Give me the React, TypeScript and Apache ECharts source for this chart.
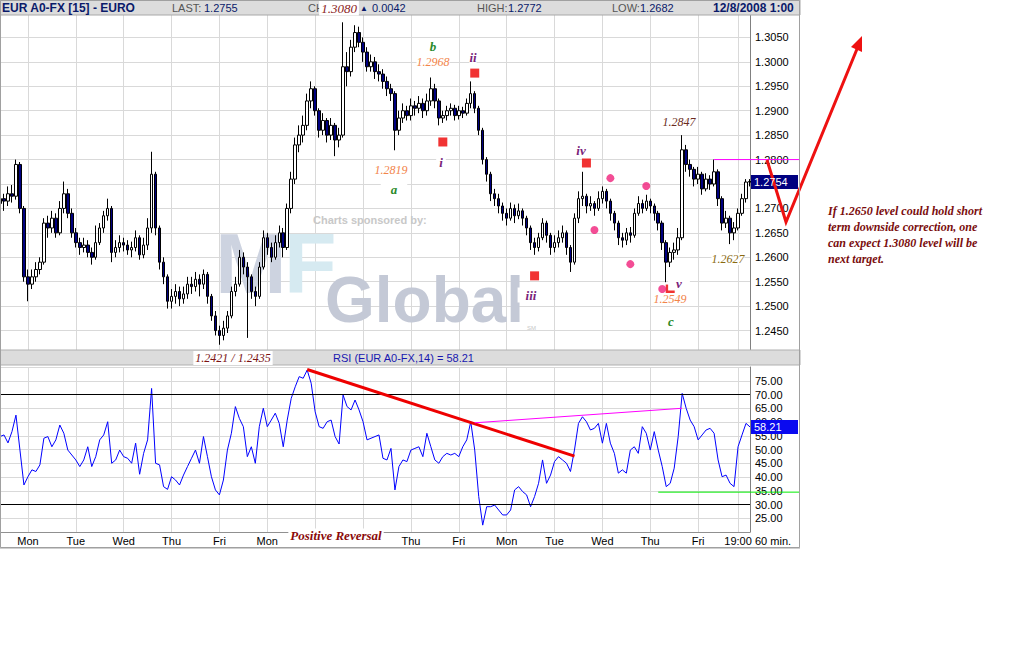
import React, { useEffect, useRef } from 'react';
import * as echarts from 'echarts';

// 2-hour EUR A0-FX bars: [open, close, low, high] in 1/10000 above 1.0000 (2720 = 1.2720)
const priceBars: number[][] = [
  [2710,2720,2700,2735],[2720,2715,2695,2730],[2715,2730,2705,2745],[2730,2725,2712,2748],[2725,2790,2718,2800],
  [2790,2700,2690,2795],[2700,2560,2550,2705],[2560,2545,2510,2575],[2545,2560,2535,2575],[2560,2575,2550,2590],
  [2575,2590,2565,2600],[2590,2670,2585,2680],[2670,2660,2640,2685],[2660,2680,2650,2695],[2680,2650,2640,2690],
  [2650,2700,2645,2715],[2700,2730,2690,2755],[2730,2690,2680,2740],[2690,2650,2640,2700],[2650,2630,2620,2660],
  [2630,2620,2605,2640],[2620,2625,2610,2640],[2625,2610,2600,2635],[2610,2600,2585,2620],[2600,2630,2595,2665],
  [2630,2660,2625,2670],[2660,2685,2650,2695],[2685,2700,2675,2720],[2700,2610,2590,2705],[2610,2620,2600,2635],
  [2620,2630,2610,2645],[2630,2625,2612,2640],[2625,2615,2605,2635],[2615,2620,2600,2632],[2620,2640,2612,2655],
  [2640,2605,2595,2645],[2605,2625,2598,2640],[2625,2660,2615,2680],[2660,2770,2650,2816],[2770,2660,2645,2775],
  [2660,2590,2575,2665],[2590,2560,2545,2600],[2560,2510,2495,2565],[2510,2520,2495,2535],[2520,2530,2505,2545],
  [2530,2515,2500,2540],[2515,2525,2505,2540],[2525,2545,2515,2560],[2545,2540,2525,2560],[2540,2555,2530,2570],
  [2555,2545,2520,2565],[2545,2565,2535,2575],[2565,2520,2505,2570],[2520,2480,2470,2525],[2480,2450,2440,2490],
  [2450,2440,2421,2460],[2440,2455,2430,2470],[2455,2480,2445,2490],[2480,2530,2475,2540],[2530,2545,2520,2560],
  [2545,2600,2540,2615],[2600,2580,2565,2610],[2580,2560,2435,2590],[2560,2530,2515,2565],[2530,2520,2500,2540],
  [2520,2580,2515,2590],[2580,2640,2575,2655],[2640,2620,2605,2650],[2620,2600,2590,2630],[2600,2630,2595,2645],
  [2630,2650,2620,2665],[2650,2620,2600,2660],[2620,2700,2615,2710],[2700,2760,2690,2775],[2760,2830,2750,2845],
  [2830,2850,2815,2870],[2850,2870,2835,2890],[2870,2920,2860,2935],[2920,2945,2905,2960],[2945,2900,2890,2950],
  [2900,2860,2845,2905],[2860,2880,2850,2895],[2880,2850,2835,2885],[2850,2870,2840,2885],[2870,2840,2807,2875],
  [2840,2850,2825,2865],[2850,2990,2845,3081],[2990,2980,2950,3020],[2980,3030,2970,3045],[3030,3060,3020,3075],
  [3060,3040,3030,3072],[3040,3020,3000,3050],[3020,2990,2980,3030],[2990,3000,2980,3015],[3000,2980,2965,3010],
  [2980,2975,2960,2995],[2975,2960,2945,2985],[2960,2945,2930,2970],[2945,2935,2920,2955],[2935,2860,2819,2940],
  [2860,2885,2850,2900],[2885,2900,2875,2915],[2900,2890,2880,2910],[2890,2910,2880,2925],[2910,2905,2890,2920],
  [2905,2915,2895,2930],[2915,2900,2885,2925],[2900,2920,2890,2935],[2920,2945,2910,2968],[2945,2920,2905,2955],
  [2920,2885,2870,2925],[2885,2890,2875,2900],[2890,2900,2880,2910],[2900,2905,2890,2915],[2905,2890,2880,2912],
  [2890,2900,2882,2910],[2900,2895,2885,2908],[2895,2915,2890,2925],[2915,2935,2905,2960],[2935,2905,2895,2940],
  [2905,2860,2850,2910],[2860,2800,2790,2865],[2800,2770,2755,2805],[2770,2730,2715,2775],[2730,2720,2705,2740],
  [2720,2705,2690,2730],[2705,2690,2675,2712],[2690,2680,2665,2700],[2680,2700,2675,2712],[2700,2685,2670,2708],
  [2685,2695,2678,2710],[2695,2680,2665,2700],[2680,2660,2645,2685],[2660,2630,2615,2665],[2630,2620,2605,2640],
  [2620,2640,2612,2650],[2640,2670,2635,2680],[2670,2645,2630,2675],[2645,2620,2605,2650],[2620,2630,2610,2645],
  [2630,2640,2620,2655],[2640,2650,2630,2665],[2650,2620,2605,2655],[2620,2590,2570,2625],[2590,2680,2585,2690],
  [2680,2720,2670,2735],[2720,2725,2705,2775],[2725,2705,2690,2730],[2705,2710,2695,2725],[2710,2700,2685,2715],
  [2700,2720,2695,2735],[2720,2735,2710,2745],[2735,2715,2700,2740],[2715,2690,2675,2720],[2690,2670,2655,2695],
  [2670,2640,2625,2675],[2640,2635,2620,2650],[2635,2650,2625,2660],[2650,2645,2630,2662],[2645,2690,2640,2700],
  [2690,2710,2685,2725],[2710,2700,2690,2718],[2700,2715,2695,2728],[2715,2705,2690,2720],[2705,2690,2675,2710],
  [2690,2670,2655,2695],[2670,2630,2615,2675],[2630,2590,2549,2635],[2590,2610,2580,2620],[2610,2615,2595,2630],
  [2615,2640,2605,2660],[2640,2820,2635,2850],[2820,2790,2775,2830],[2790,2780,2765,2800],[2780,2760,2745,2785],
  [2760,2770,2750,2785],[2770,2740,2728,2775],[2740,2760,2735,2772],[2760,2750,2738,2768],[2750,2775,2745,2800],
  [2775,2720,2705,2780],[2720,2670,2655,2725],[2670,2680,2660,2695],[2680,2650,2627,2685],[2650,2660,2635,2672],
  [2660,2690,2655,2700],[2690,2720,2685,2730],[2720,2754,2712,2760],[2754,2755,2745,2760],
];

// RSI(14), one value per bar
const rsiValues: number[] = [
  54.7, 55.3, 52.4, 56.5, 62.5, 49.8, 37.1, 40.1, 42.6, 42.0,
  44.4, 54.1, 54.7, 51.0, 53.5, 58.9, 55.9, 49.8, 48.0, 46.2,
  43.8, 46.2, 51.0, 43.8, 47.4, 53.5, 55.3, 60.1, 45.0, 46.2,
  49.8, 47.4, 46.8, 45.0, 52.3, 41.0, 48.6, 53.5, 72.2, 45.0,
  44.4, 36.5, 35.5, 40.1, 38.9, 37.1, 40.7, 43.8, 46.8, 49.8,
  45.0, 54.7, 47.4, 40.1, 35.3, 33.5, 38.9, 49.8, 55.9, 65.6,
  61.3, 58.3, 47.4, 51.0, 45.0, 58.3, 65.0, 58.3, 60.7, 63.2,
  59.5, 51.0, 60.7, 68.6, 72.8, 76.5, 75.9, 78.9, 74.1, 63.7,
  58.3, 57.7, 60.1, 60.7, 54.7, 52.0, 69.8, 65.6, 64.4, 68.0,
  64.4, 60.1, 53.5, 54.1, 54.7, 55.3, 46.8, 46.2, 50.4, 35.3,
  43.8, 46.2, 45.6, 49.8, 50.4, 51.0, 47.4, 55.9, 51.0, 46.2,
  45.0, 47.4, 48.6, 48.0, 48.6, 47.4, 51.0, 53.5, 60.1, 49.8,
  32.9, 22.5, 29.2, 29.2, 29.8, 28.0, 26.2, 26.2, 28.0, 35.3,
  36.5, 34.7, 33.5, 29.2, 32.9, 37.7, 46.2, 37.7, 40.7, 45.6,
  47.4, 46.2, 45.0, 42.0, 49.8, 59.5, 61.9, 60.1, 57.1, 57.7,
  59.5, 52.3, 59.5, 52.3, 48.6, 41.4, 42.6, 41.4, 49.8, 51.0,
  48.6, 58.3, 55.9, 49.8, 56.5, 49.8, 43.8, 36.5, 37.7, 43.2,
  54.7, 70.4, 65.0, 60.7, 58.3, 53.5, 55.3, 57.1, 57.7, 55.9,
  46.2, 40.1, 40.7, 37.7, 36.5, 51.0, 55.3, 59.5, 58.21,
];

// day-start ticks; the two labels hidden under the "Positive Reversal" note are left blank
const dayLabels = ['Mon', 'Tue', 'Wed', 'Thu', 'Fri', 'Mon', '', '', 'Thu', 'Fri', 'Mon', 'Tue', 'Wed', 'Thu', 'Fri', '19:00'];
const dayLabelBars = [7, 19, 31, 43, 55, 67, 79, 91, 103, 115, 127, 139, 151, 163, 175, 185];

const lastPrice = 1.2754;
const lastRsi = 58.21;
const resistanceLevel = 1.28;
const resistanceFromBar = 179;
const rsiSupportLevel = 34.5;
const rsiSupportFromBar = 165;
const waveSquares: number[][] = [[119, 1.2977], [111, 1.2836], [134, 1.2562], [147, 1.2793], [168, 1.2535]];
const pinkDots: number[][] = [[153, 1.2762], [149, 1.2656], [162, 1.2746], [158, 1.2586], [166, 1.2535]];
const rsiTrendRed: number[][] = [[77, 79.1], [144, 47.6]];
const rsiTrendMagenta: number[][] = [[119, 59.7], [171, 65.0]];
const rsiTrendOrange: number[][] = [[55, 33.1], [137, 19.9]];

const SANS = '"Liberation Sans", Arial, sans-serif';
const SERIF = '"Liberation Serif", "DejaVu Serif", serif';
const GREEN = '#2a8a2a';
const ORANGE = '#f2844a';
const PURPLE = '#7a1f7a';
const MAROON = '#7a1212';

export default function App() {
  const ref = useRef<HTMLDivElement>(null);

  useEffect(() => {
    const chart = echarts.init(ref.current as HTMLDivElement, undefined, { renderer: 'svg', width: 1012, height: 665 });
    const toPrice = (v: number) => +(1 + v / 10000).toFixed(4);
    const candles = priceBars.map((b) => b.map(toPrice));
    const cats = priceBars.map((_, i) => String(i));
    const labelMap: Record<number, string> = {};
    dayLabelBars.forEach((b, k) => { labelMap[b] = dayLabels[k]; });
    const isDay = (i: number) => labelMap[i] !== undefined;
    const gridLine = { show: true, interval: isDay, lineStyle: { color: '#d9d9d9', width: 1 } };

    const trend = (pts: number[][], color: string, width: number) => [
      { coord: pts[0], lineStyle: { color, width, type: 'solid' } },
      { coord: pts[1], lineStyle: { color, width, type: 'solid' } },
    ];

    chart.setOption({
      animation: false,
      backgroundColor: '#ffffff',
      grid: [
        { left: 0, top: 13, width: 750, height: 342, show: false },
        { left: 0, top: 367, width: 750, height: 165, show: false },
      ],
      xAxis: [
        {
          type: 'category', gridIndex: 0, data: cats, boundaryGap: false,
          axisLine: { show: false }, axisTick: { show: false }, axisLabel: { show: false },
          splitLine: gridLine,
        },
        {
          type: 'category', gridIndex: 1, data: cats, boundaryGap: false,
          axisLine: { show: true, lineStyle: { color: '#909090' } }, axisTick: { show: false },
          axisLabel: {
            interval: (i: number) => !!labelMap[i], margin: 3, color: '#000', fontSize: 11, fontFamily: SANS,
            formatter: (_v: string, i: number) => labelMap[i] ?? '',
          },
          splitLine: gridLine,
        },
      ],
      yAxis: [
        {
          type: 'value', gridIndex: 0, position: 'right', min: 1.24, max: 1.31, interval: 0.005,
          axisLine: { show: true, lineStyle: { color: '#808080' } }, axisTick: { show: false },
          axisLabel: {
            margin: 5, color: '#000', fontSize: 11, fontFamily: SANS,
            formatter: (v: number) => (v < 1.2449 || v > 1.3051 ? '' : v.toFixed(4)),
          },
          splitLine: { show: true, lineStyle: { color: '#d9d9d9', width: 1 } },
        },
        {
          type: 'value', gridIndex: 1, position: 'right', min: 20, max: 80, interval: 5,
          axisLine: { show: true, lineStyle: { color: '#808080' } }, axisTick: { show: false },
          axisLabel: {
            margin: 5, color: '#000', fontSize: 11, fontFamily: SANS,
            formatter: (v: number) => (v < 24 || v > 76 ? '' : v.toFixed(2)),
          },
          splitLine: { show: true, lineStyle: { color: '#d9d9d9', width: 1 } },
        },
      ],
      series: [
        {
          type: 'candlestick', xAxisIndex: 0, yAxisIndex: 0, data: candles, barWidth: 3,
          itemStyle: { color: '#ffffff', color0: '#000080', borderColor: '#000000', borderColor0: '#000000', borderWidth: 1 },
        },
        {
          type: 'scatter', xAxisIndex: 0, yAxisIndex: 0, data: waveSquares, symbol: 'rect', symbolSize: 9,
          itemStyle: { color: '#ee0000' }, z: 5, silent: true,
        },
        {
          type: 'scatter', xAxisIndex: 0, yAxisIndex: 0, data: pinkDots, symbol: 'circle', symbolSize: 8,
          itemStyle: { color: '#f0207a' }, z: 5, silent: true,
        },
        {
          type: 'line', xAxisIndex: 1, yAxisIndex: 1, data: rsiValues, showSymbol: false,
          lineStyle: { color: '#0000ff', width: 1 }, silent: true,
          markLine: {
            silent: true, symbol: ['none', 'none'], label: { show: false },
            data: [
              { yAxis: 70, lineStyle: { color: '#000', width: 1, type: 'solid' } },
              { yAxis: 30, lineStyle: { color: '#000', width: 1, type: 'solid' } },
              trend(rsiTrendRed, '#ee0000', 3),
              trend(rsiTrendMagenta, '#ff00ff', 1),
              trend(rsiTrendOrange, '#ff8040', 1),
            ],
          },
        },
      ],
    });

    const p0 = (x: number, y: number) => chart.convertToPixel({ gridIndex: 0 }, [x, y]) as number[];
    const p1 = (x: number, y: number) => chart.convertToPixel({ gridIndex: 1 }, [x, y]) as number[];
    const lastPx = p0(priceBars.length - 1, lastPrice);
    const lastRsiPx = p1(rsiValues.length - 1, lastRsi);
    const resPx = p0(resistanceFromBar, resistanceLevel);
    const supPx = p1(rsiSupportFromBar, rsiSupportLevel);

    const text = (x: number, y: number, t: string, fill: string, opts: any = {}) => ({
      type: 'text', x, y, z: opts.z ?? 110, silent: true,
      style: {
        text: t, fill,
        fontSize: opts.size ?? 12, fontFamily: opts.family ?? SERIF,
        fontStyle: opts.style ?? 'italic', fontWeight: opts.weight ?? 'normal',
        align: opts.align ?? 'center', verticalAlign: 'middle',
        backgroundColor: opts.bg, padding: opts.pad,
      },
    });

    const elements: any[] = [
      // watermark
      text(215, 263, 'M', '#cdd3e0', { family: SANS, style: 'normal', weight: 'bold', size: 86, align: 'left', z: 1 }),
      text(284, 263, 'F', '#d6eaf1', { family: SANS, style: 'normal', weight: 'bold', size: 86, align: 'left', z: 1 }),
      text(325, 300, 'Global', '#c4c9d6', { family: SANS, style: 'normal', weight: 'bold', size: 64, align: 'left', z: 1 }),
      text(313, 220, 'Charts sponsored by:', '#c8c8c8', { family: SANS, style: 'normal', weight: 'bold', size: 11, align: 'left', z: 1 }),
      text(527, 328, 'SM', '#c8c8c8', { family: SANS, style: 'normal', size: 6, align: 'left', z: 1 }),

      // header bar
      { type: 'rect', z: 100, silent: true, shape: { x: 0, y: 0, width: 800, height: 15 }, style: { fill: '#dcdcdc', stroke: '#a8a8a8', lineWidth: 1 } },
      text(2, 8, 'EUR A0-FX [15] - EURO', '#0a1a6a', { family: SANS, style: 'normal', weight: 'bold', size: 12, align: 'left' }),
      text(172, 8, 'LAST:', '#555', { family: SANS, style: 'normal', size: 11, align: 'left' }),
      text(204, 8, '1.2755', '#0a1a6a', { family: SANS, style: 'normal', size: 11, align: 'left' }),
      text(308, 8, 'CH', '#555', { family: SANS, style: 'normal', size: 11, align: 'left' }),
      text(360, 8, '▲', '#0a1a6a', { family: SANS, style: 'normal', size: 8, align: 'left' }),
      text(372, 8, '0.0042', '#0a1a6a', { family: SANS, style: 'normal', size: 11, align: 'left' }),
      text(477, 8, 'HIGH:', '#555', { family: SANS, style: 'normal', size: 11, align: 'left' }),
      text(508, 8, '1.2772', '#0a1a6a', { family: SANS, style: 'normal', size: 11, align: 'left' }),
      text(612, 8, 'LOW:', '#555', { family: SANS, style: 'normal', size: 11, align: 'left' }),
      text(640, 8, '1.2682', '#0a1a6a', { family: SANS, style: 'normal', size: 11, align: 'left' }),
      text(713, 8, '12/8/2008 1:00', '#0a1a6a', { family: SANS, style: 'normal', weight: 'bold', size: 12, align: 'left' }),
      text(339, 8, '1.3080', '#8b1c1c', { size: 13, bg: '#ffffff', pad: [1, 2], z: 120 }),

      // RSI header bar
      { type: 'rect', z: 100, silent: true, shape: { x: 0, y: 350, width: 800, height: 15 }, style: { fill: '#dcdcdc', stroke: '#b0b0b0', lineWidth: 1 } },
      text(333, 358, 'RSI (EUR A0-FX,14) = 58.21', '#1818b0', { family: SANS, style: 'normal', size: 11, align: 'left' }),
      text(233, 358, '1.2421 / 1.2435', MAROON, { size: 12, bg: '#ffffff', pad: [1, 2], z: 120 }),

      // frame
      { type: 'rect', z: 130, silent: true, shape: { x: 0.5, y: 0.5, width: 799, height: 547 }, style: { fill: 'none', stroke: '#a0a0a0', lineWidth: 1 } },
      { type: 'line', z: 130, silent: true, shape: { x1: 0, y1: 548, x2: 800, y2: 548 }, style: { stroke: '#a0a0a0', lineWidth: 1 } },

      // bottom axis extra
      text(755, 541, '60 min.', '#000', { family: SANS, style: 'normal', size: 11, align: 'left' }),
      text(336, 535, 'Positive Reversal', '#8b0a0a', { size: 13, weight: 'bold', bg: '#ffffff', pad: [0, 2], z: 120 }),

      // wave annotations
      text(433, 46, 'b', GREEN, { size: 13, weight: 'bold', bg: '#fff' }),
      text(433, 62, '1.2968', ORANGE, { size: 12, bg: '#fff' }),
      text(473, 57, 'ii', PURPLE, { size: 13, weight: 'bold', bg: '#fff' }),
      text(391, 170, '1.2819', ORANGE, { size: 12, bg: '#fff', pad: [1, 3] }),
      text(441, 162, 'i', PURPLE, { size: 13, weight: 'bold', bg: '#fff', pad: [1, 3] }),
      text(394, 189, 'a', GREEN, { size: 13, weight: 'bold', bg: '#fff', pad: [1, 10] }),
      text(581, 150, 'iv', PURPLE, { size: 13, weight: 'bold', bg: '#fff' }),
      text(531, 295, 'iii', PURPLE, { size: 13, weight: 'bold', bg: '#fff', pad: [1, 8] }),
      text(679, 122, '1.2847', '#6a2a20', { size: 12, bg: '#fff' }),
      text(728, 259, '1.2627', '#8a6a10', { size: 12, bg: '#fff' }),
      text(679, 283, 'v', PURPLE, { size: 13, weight: 'bold', bg: '#fff', pad: [1, 8] }),
      text(670, 299, '1.2549', ORANGE, { size: 12, bg: '#fff' }),
      text(671, 321, 'c', GREEN, { size: 13, weight: 'bold', bg: '#fff', pad: [1, 8] }),

      // level lines extending into the axis area
      { type: 'line', z: 105, silent: true, shape: { x1: resPx[0], y1: resPx[1], x2: 800, y2: resPx[1] }, style: { stroke: '#ff00ff', lineWidth: 1 } },
      { type: 'line', z: 105, silent: true, shape: { x1: supPx[0], y1: supPx[1], x2: 800, y2: supPx[1] }, style: { stroke: '#00ee00', lineWidth: 1 } },

      // last value boxes
      { type: 'rect', z: 110, silent: true, shape: { x: 751, y: lastPx[1] - 7, width: 47, height: 14 }, style: { fill: '#000080' } },
      text(754, lastPx[1], lastPrice.toFixed(4), '#ffffff', { family: SANS, style: 'normal', size: 11, align: 'left', z: 111 }),
      { type: 'rect', z: 110, silent: true, shape: { x: 751, y: lastRsiPx[1] - 7, width: 47, height: 14 }, style: { fill: '#0a0af0' } },
      text(754, lastRsiPx[1], lastRsi.toFixed(2), '#ffffff', { family: SANS, style: 'normal', size: 11, align: 'left', z: 111 }),

      // forecast arrow
      { type: 'polyline', z: 110, silent: true, shape: { points: [[767, 160], [786, 222], [857, 49]] }, style: { stroke: '#ee1111', lineWidth: 3, fill: 'none' } },
      { type: 'polygon', z: 110, silent: true, shape: { points: [[862, 36], [851, 47], [862, 52]] }, style: { fill: '#ee1111' } },

      // comment
      text(828, 211, 'If 1.2650 level could hold short', '#7a0d0d', { size: 12, weight: 'bold', align: 'left' }),
      text(828, 227, 'term downside correction, one', '#7a0d0d', { size: 12, weight: 'bold', align: 'left' }),
      text(828, 243, 'can expect 1.3080 level will be', '#7a0d0d', { size: 12, weight: 'bold', align: 'left' }),
      text(828, 259, 'next target.', '#7a0d0d', { size: 12, weight: 'bold', align: 'left' }),
    ];

    chart.setOption({ graphic: { elements } });
    return () => chart.dispose();
  }, []);

  return (
    <div
      ref={ref}
      style={{ position: 'fixed', left: 0, top: 0, width: 1012, height: 665, background: '#ffffff' }}
    />
  );
}
